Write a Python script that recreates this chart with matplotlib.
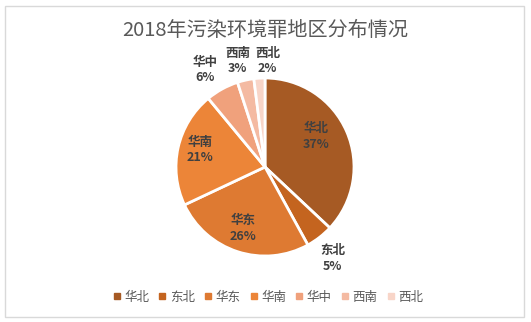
import matplotlib
matplotlib.use("Agg")
import matplotlib.pyplot as plt
from matplotlib.patches import Rectangle
from matplotlib.lines import Line2D

plt.rcParams['font.family'] = ['Noto Sans CJK SC', 'DejaVu Sans']

title = "2018年污染环境罪地区分布情况"
regions = ["华北", "东北", "华东", "华南", "华中", "西南", "西北"]
shares = [37, 5, 26, 21, 6, 3, 2]
colors = ["#A65A24", "#C4641F", "#DE7A32", "#EC8538", "#F0A17C", "#F4BAA2", "#F8D5C8"]
# label positions in units of pie radius (layout only)
label_pos = [(0.57, 0.34), (0.76, -1.03), (-0.25, -0.69), (-0.73, 0.19),
             (-0.67, 1.09), (-0.31, 1.19), (0.03, 1.19)]

W, H = 531, 322
fig = plt.figure(figsize=(W / 100, H / 100), dpi=100)
fig.patch.set_facecolor("white")

# chart border
fig.add_artist(Rectangle((5 / W, 1 - 317 / H), (524 - 5) / W, (317 - 6) / H,
                         transform=fig.transFigure, fill=False,
                         edgecolor="#D9D9D9", linewidth=1))

cx, cy, r = 265, 167, 89
ax = fig.add_axes([(cx - r) / W, (H - cy - r) / H, 2 * r / W, 2 * r / H])
wedges, _ = ax.pie(shares, colors=colors, startangle=90, counterclock=False,
                   radius=1, wedgeprops=dict(edgecolor="white", linewidth=2))
ax.set_xlim(-1, 1)
ax.set_ylim(-1, 1)
ax.set_aspect("auto")
ax.axis("off")

for name, v, (lx, ly) in zip(regions, shares, label_pos):
    ax.text(lx, ly, f"{name}\n{v}%", ha="center", va="center", fontsize=9,
            color="#404040", fontweight="bold", linespacing=1.25)

fig.text(265 / W, 1 - 30 / H, title, ha="center", va="center",
         fontsize=14.5, color="#595959")

handles = [Line2D([], [], marker="s", linestyle="none", markersize=5,
                  markerfacecolor=c, markeredgecolor=c) for c in colors]
fig.legend(handles, regions, loc="center", bbox_to_anchor=(268 / W, 1 - 297 / H),
           ncol=7, frameon=False, fontsize=9, handlelength=0.6,
           handletextpad=0.3, columnspacing=0.75, labelcolor="#595959")

fig.savefig("out.png", dpi=100, facecolor="white")
